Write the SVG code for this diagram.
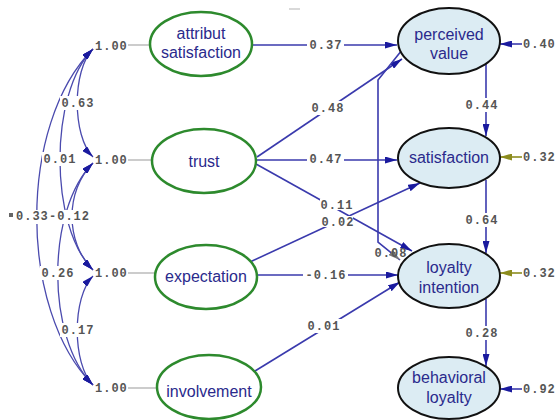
<svg xmlns="http://www.w3.org/2000/svg" width="559" height="420" viewBox="0 0 559 420">
<style>
.lbl{font-family:"Liberation Mono","DejaVu Sans Mono",monospace;font-size:12px;font-weight:bold;fill:#555;letter-spacing:1px}
.mid{text-anchor:middle}
.bg{fill:#fff}
.nt{font-family:"Liberation Sans",Arial,sans-serif;font-size:16px;fill:#2a2a8c;text-anchor:middle}
.exo{fill:#fff;stroke:#2d8a2d;stroke-width:2.5}
.endo{fill:#dcecf3;stroke:#111;stroke-width:2}
.path{fill:none;stroke:#3a3aad;stroke-width:1.6}
.arc{fill:none;stroke:#4a4aae;stroke-width:1.3}
.gray{fill:none;stroke:#aaa;stroke-width:1.2}
</style>
<defs>
<marker id="ah" markerUnits="userSpaceOnUse" markerWidth="12" markerHeight="7" refX="12" refY="3.5" orient="auto"><path d="M0,0 L12,3.5 L0,7 z" fill="#1a1a9e"/></marker>
<marker id="ahs" markerUnits="userSpaceOnUse" markerWidth="12" markerHeight="7" refX="12" refY="3.5" orient="auto-start-reverse"><path d="M0,0 L12,3.5 L0,7 z" fill="#1a1a9e"/></marker>
<marker id="ahg" markerUnits="userSpaceOnUse" markerWidth="12" markerHeight="7" refX="12" refY="3.5" orient="auto"><path d="M0,0 L12,3.5 L0,7 z" fill="#777"/></marker>
<marker id="aho" markerUnits="userSpaceOnUse" markerWidth="12" markerHeight="7" refX="12" refY="3.5" orient="auto"><path d="M0,0 L12,3.5 L0,7 z" fill="#8c8c1e"/></marker>
</defs>
<rect width="559" height="420" fill="#fff"/>
<line x1="289" y1="9" x2="300" y2="9" stroke="#ccc" stroke-width="1.5"/>

<g id="connectors">
  <!-- covariance arcs -->
  <path class="arc" d="M93,49 C72,70 72,136 93,157" marker-start="url(#ahs)" marker-end="url(#ah)"/>
  <path class="arc" d="M93,49 C49,93 49,226 93,270" marker-start="url(#ahs)" marker-end="url(#ah)"/>
  <path class="arc" d="M93,49 C18,124 18,310 93,385" marker-start="url(#ahs)" marker-end="url(#ah)"/>
  <path class="arc" d="M93,163 C65,191 65,242 93,270" marker-start="url(#ahs)" marker-end="url(#ah)"/>
  <path class="arc" d="M93,163 C46,210 46,338 93,385" marker-start="url(#ahs)" marker-end="url(#ah)"/>
  <path class="arc" d="M93,276 C72,297 72,364 93,385" marker-start="url(#ahs)" marker-end="url(#ah)"/>
  <!-- variance ties -->
  <line class="gray" x1="128" y1="45" x2="150" y2="45"/>
  <line class="gray" x1="128" y1="160" x2="152" y2="160"/>
  <line class="gray" x1="128" y1="273" x2="155" y2="273"/>
  <line class="gray" x1="128" y1="388" x2="157" y2="388"/>
  <!-- paths -->
  <line class="path" x1="253" y1="45" x2="397" y2="45" marker-end="url(#ah)"/>
  <line class="path" x1="257" y1="157" x2="402" y2="59" marker-end="url(#ah)"/>
  <line class="path" x1="257" y1="160" x2="397" y2="160" marker-end="url(#ah)"/>
  <line class="path" x1="256" y1="164" x2="412" y2="251" marker-end="url(#ah)"/>
  <line class="path" x1="250" y1="262" x2="420" y2="183" marker-end="url(#ah)"/>
  <line class="path" x1="258" y1="275" x2="398" y2="275" marker-end="url(#ah)"/>
  <line class="path" x1="255" y1="371" x2="400" y2="282" marker-end="url(#ah)"/>
  <polyline class="path" points="402,50 378,80 378,242 400,260" stroke-width="1.3" marker-end="url(#ahg)"/>
  <line class="path" x1="486" y1="64" x2="486" y2="136" marker-end="url(#ah)"/>
  <line class="path" x1="486" y1="180" x2="486" y2="253" marker-end="url(#ah)"/>
  <line class="path" x1="486" y1="299" x2="486" y2="366" marker-end="url(#ah)"/>
  <!-- errors -->
  <line class="path" x1="522" y1="44" x2="500" y2="44" marker-end="url(#ah)"/>
  <line x1="522" y1="157" x2="500" y2="157" stroke="#8c8c1e" stroke-width="1.6" marker-end="url(#aho)"/>
  <line x1="522" y1="273" x2="500" y2="273" stroke="#8c8c1e" stroke-width="1.6" marker-end="url(#aho)"/>
  <line class="path" x1="522" y1="389" x2="500" y2="389" marker-end="url(#ah)"/>
</g>

<g id="labels">
  <rect class="bg" x="307" y="38" width="37" height="14"/><text class="lbl mid" x="326" y="49">0.37</text>
  <rect class="bg" x="309" y="101" width="37" height="14"/><text class="lbl mid" x="328" y="112">0.48</text>
  <rect class="bg" x="307" y="152" width="37" height="14"/><text class="lbl mid" x="326" y="163">0.47</text>
  <rect class="bg" x="320" y="199" width="32" height="11"/><text class="lbl mid" x="337" y="209">0.11</text>
  <rect class="bg" x="321" y="216" width="32" height="11"/><text class="lbl mid" x="338" y="226">0.02</text>
  <rect class="bg" x="303" y="268" width="45" height="14"/><text class="lbl mid" x="326" y="279">-0.16</text>
  <rect class="bg" x="305" y="319" width="37" height="14"/><text class="lbl mid" x="324" y="330">0.01</text>
  <text class="lbl mid" x="391" y="257" fill="#666">0.08</text>
  <rect class="bg" x="463" y="98" width="37" height="14"/><text class="lbl mid" x="482" y="109">0.44</text>
  <rect class="bg" x="463" y="213" width="37" height="14"/><text class="lbl mid" x="482" y="224">0.64</text>
  <rect class="bg" x="463" y="326" width="37" height="14"/><text class="lbl mid" x="482" y="337">0.28</text>
  <text class="lbl" x="523" y="48">0.40</text>
  <text class="lbl" x="523" y="161">0.32</text>
  <text class="lbl" x="523" y="277">0.32</text>
  <text class="lbl" x="523" y="393">0.92</text>
  <text class="lbl" x="95" y="50">1.00</text>
  <text class="lbl" x="95" y="164">1.00</text>
  <text class="lbl" x="95" y="277">1.00</text>
  <text class="lbl" x="95" y="392">1.00</text>
  <rect class="bg" x="60" y="96" width="35" height="14"/><text class="lbl mid" x="78" y="107">0.63</text>
  <rect class="bg" x="42" y="152" width="35" height="14"/><text class="lbl mid" x="60" y="163">0.01</text>
  <rect class="bg" x="15" y="210" width="77" height="14"/>
  <rect x="9" y="213" width="4" height="4" fill="#666"/>
  <text class="lbl" x="16" y="220">0.33</text>
  <text class="lbl" x="49" y="220">-0.12</text>
  <rect class="bg" x="40" y="266" width="35" height="14"/><text class="lbl mid" x="58" y="277">0.26</text>
  <rect class="bg" x="60" y="323" width="35" height="14"/><text class="lbl mid" x="78" y="334">0.17</text>
</g>

<g id="attribut-satisfaction"><ellipse class="exo" cx="201" cy="44" rx="51" ry="32"/><text class="nt" x="201" y="39">attribut</text><text class="nt" x="201" y="58">satisfaction</text></g>
<g id="trust"><ellipse class="exo" cx="204" cy="161" rx="52" ry="32"/><text class="nt" x="204" y="167">trust</text></g>
<g id="expectation"><ellipse class="exo" cx="206" cy="277" rx="51" ry="32"/><text class="nt" x="206" y="282">expectation</text></g>
<g id="involvement"><ellipse class="exo" cx="209" cy="387" rx="52" ry="32"/><text class="nt" x="209" y="397">involvement</text></g>

<g id="perceived-value"><ellipse class="endo" cx="449" cy="41" rx="51" ry="33"/><text class="nt" x="449" y="40">perceived</text><text class="nt" x="449" y="59">value</text></g>
<g id="satisfaction"><ellipse class="endo" cx="449" cy="158" rx="51" ry="30"/><text class="nt" x="449" y="163">satisfaction</text></g>
<g id="loyalty-intention"><ellipse class="endo" cx="449" cy="276" rx="51" ry="32"/><text class="nt" x="449" y="273">loyalty</text><text class="nt" x="449" y="293">intention</text></g>
<g id="behavioral-loyalty"><ellipse class="endo" cx="449" cy="388" rx="51" ry="31"/><text class="nt" x="449" y="383">behavioral</text><text class="nt" x="449" y="403">loyalty</text></g>
</svg>
